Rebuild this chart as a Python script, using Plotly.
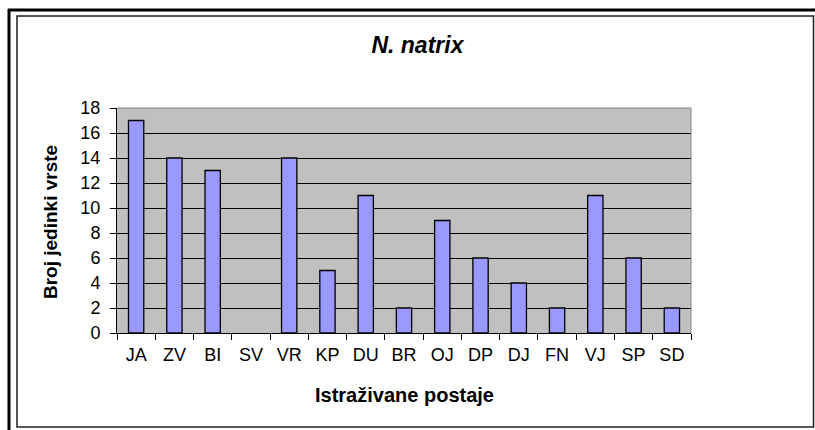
import plotly.graph_objects as go

categories = ["JA", "ZV", "BI", "SV", "VR", "KP", "DU", "BR", "OJ", "DP", "DJ", "FN", "VJ", "SP", "SD"]
values = [17, 14, 13, 0, 14, 5, 11, 2, 9, 6, 4, 2, 11, 6, 2]
y_ticks = [0, 2, 4, 6, 8, 10, 12, 14, 16, 18]

W, H = 815, 430
L, R, T, B = 117, 691, 108, 333
pw, ph = R - L, B - T

def px(x):
    return (x - L) / pw

def py(y):
    return (B - y) / ph

FONT = "Arial, Liberation Sans, sans-serif"

fig = go.Figure()
fig.add_trace(go.Bar(
    x=categories, y=values,
    marker=dict(color="#9999FF",
                line=dict(color="black", width=[1.3 if v > 0 else 0 for v in values])),
    hoverinfo="x+y",
))

shapes = [
    # inner frame
    dict(type="rect", xref="paper", yref="paper", x0=px(17), x1=px(813.5), y0=py(427), y1=py(16),
         line=dict(color="#202020", width=1.5), layer="below"),
    # outer thick L
    dict(type="line", xref="paper", yref="paper", x0=px(8), x1=px(815), y0=py(10), y1=py(10),
         line=dict(color="black", width=3)),
    dict(type="line", xref="paper", yref="paper", x0=px(9), x1=px(9), y0=py(9), y1=py(430),
         line=dict(color="black", width=3)),
    # plot area border top/right
    dict(type="line", xref="paper", yref="paper", x0=0, x1=1, y0=1, y1=1,
         line=dict(color="#808080", width=1)),
    dict(type="line", xref="paper", yref="paper", x0=1, x1=1, y0=0, y1=1,
         line=dict(color="#808080", width=1)),
]

fig.update_layout(
    width=W, height=H,
    margin=dict(l=L, r=W - R, t=T, b=H - B, pad=0),
    paper_bgcolor="white",
    plot_bgcolor="#C0C0C0",
    showlegend=False,
    bargap=0.6,
    font=dict(family=FONT, color="black", size=18),
    title=dict(text="<b><i>N. natrix</i></b>", x=px(411), xanchor="center",
               y=1 - 45 / H, yanchor="middle", font=dict(size=23, family=FONT)),
    shapes=shapes,
    annotations=[
        dict(text="<b>Istraživane postaje</b>", xref="paper", yref="paper",
             x=px(404), y=py(395), showarrow=False, font=dict(size=20),
             xanchor="center", yanchor="middle"),
        dict(text="<b>Broj jedinki vrste</b>", xref="paper", yref="paper",
             x=px(50), y=py(222), showarrow=False, font=dict(size=19),
             textangle=-90, xanchor="center", yanchor="middle"),
    ],
)
fig.update_xaxes(
    type="category", tickson="boundaries", ticks="outside", ticklen=6, tickcolor="black",
    showline=True, linecolor="black", linewidth=1, showgrid=False,
    tickfont=dict(size=18), ticklabelstandoff=5,
)
fig.update_yaxes(
    range=[0, 18], tickvals=y_ticks, ticks="outside", ticklen=6, tickcolor="black",
    showline=True, linecolor="black", linewidth=1,
    showgrid=True, gridcolor="black", gridwidth=1, zeroline=False,
    tickfont=dict(size=18), ticklabelstandoff=6,
)

fig.write_html("out.html", config={"displayModeBar": False},
               post_script="document.body.style.margin='0';document.body.style.overflow='hidden';")
